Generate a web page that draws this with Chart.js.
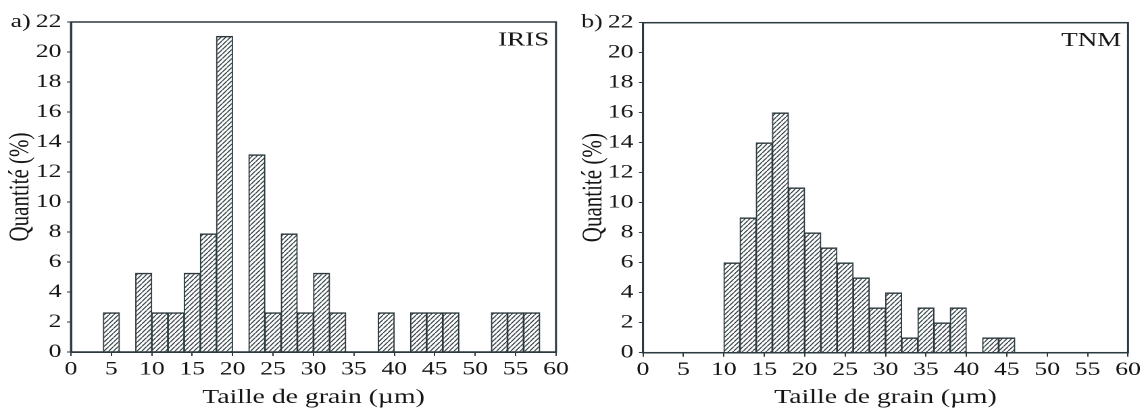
<!DOCTYPE html>
<html><head><meta charset="utf-8">
<script src="https://cdn.jsdelivr.net/npm/chart.js@4.4.1/dist/chart.umd.min.js"></script>
<style>
html,body{margin:0;padding:0;background:#fff;width:1146px;height:414px;overflow:hidden;}
.panel{position:absolute;top:0;width:424px;height:414px;transform-origin:0 0;transform:scaleX(1.351415);}
#pa{left:0}
#pb{left:573px}
</style></head><body>
<div class="panel" id="pa"><canvas id="ca" width="424" height="414"></canvas></div>
<div class="panel" id="pb"><canvas id="cb" width="424" height="414"></canvas></div>
<script>
// ---- data ----
const binWidth = 2; // µm
const xTickValues = [0,5,10,15,20,25,30,35,40,45,50,55,60];
const yTickValues = [0,2,4,6,8,10,12,14,16,18,20,22];
const irisBinStarts = [4,8,10,12,14,16,18,22,24,26,28,30,32,38,42,44,46,52,54,56];
const irisValues    = [2.63,5.26,2.63,2.63,5.26,7.89,21.05,13.16,2.63,7.89,2.63,5.26,2.63,2.63,2.63,2.63,2.63,2.63,2.63,2.63];
const tnmBinStarts  = [10,12,14,16,18,20,22,24,26,28,30,32,34,36,38,42,44];
const tnmValues     = [6,9,14,16,11,8,7,6,5,3,4,1,3,2,3,1,1];
const panelTags  = ['a)','b)'];
const sampleNames = ['IRIS','TNM'];
const xTitle = 'Taille de grain (µm)';
const yTitle = 'Quantité (%)';

// ---- style ----
const FONT = '"Liberation Serif", "Times New Roman", serif';
const INK = '#2c3a3f';
const TXT = '#151515';

function hatchPattern(){
  const k = 2, w = 3.5, h = 4.5;
  const c = document.createElement('canvas');
  c.width = w*k; c.height = h*k;
  const g = c.getContext('2d');
  g.fillStyle = '#ffffff'; g.fillRect(0,0,c.width,c.height);
  g.strokeStyle = '#333d41'; g.lineWidth = 0.95*k;
  g.beginPath();
  for (let n=-1;n<=1;n++){
    g.moveTo(0, c.height + n*c.height);
    g.lineTo(c.width, n*c.height);
  }
  g.stroke();
  const ctx = document.createElement('canvas').getContext('2d');
  const p = ctx.createPattern(c,'repeat');
  p.setTransform(new DOMMatrix([1/k,0,0,1/k,0,0]));
  return p;
}

const framePlugin = {
  id: 'frame',
  afterDatasetsDraw(chart, args, opts){
    const {ctx, chartArea:a} = chart;
    ctx.save();
    ctx.strokeStyle = INK; ctx.lineWidth = 1.5;
    ctx.strokeRect(a.left, a.top, a.right-a.left, a.bottom-a.top);
    ctx.fillStyle = TXT;
    ctx.font = '20px ' + FONT;
    ctx.textAlign = 'right'; ctx.textBaseline = 'middle';
    ctx.fillText(opts.label, a.right - 5, a.top + 18);
    ctx.restore();
  }
};

function makeChart(id, binStarts, values, tag, name, geom){
  const pattern = hatchPattern();
  return new Chart(document.getElementById(id), {
    type: 'bar',
    data: { datasets: [{
      data: binStarts.map((b,i)=>({x: b + binWidth/2, y: values[i]})),
      backgroundColor: pattern,
      borderColor: INK,
      borderWidth: {top:1.5, left:1, right:1, bottom:0},
      borderSkipped: false,
      barPercentage: 1, categoryPercentage: 1
    }]},
    options: {
      responsive: false, animation: false, devicePixelRatio: 2,
      layout: { padding: { left: 0, right: geom.right, top: geom.top, bottom: 0 } },
      plugins: { legend: {display:false}, tooltip: {enabled:false}, frame: {label: name} },
      scales: {
        x: {
          type: 'linear', min: 0, max: 60, offset: false,
          grid: { offset:false, drawOnChartArea:false, drawTicks:true, tickLength:4, tickColor:INK, tickWidth:1 },
          border: { color: INK, width: 1.5 },
          afterBuildTicks: s => { s.ticks = xTickValues.map(v=>({value:v})); },
          ticks: { autoSkip:false, maxRotation:0, padding:2, color:TXT, font:{family:FONT, size:19} },
          title: { display:true, text:xTitle, color:TXT, font:{family:FONT, size:20.5}, padding:{top:0,bottom:4} },
          afterFit: s => { s.height = geom.xh; }
        },
        y: {
          min: 0, max: 22,
          grid: { drawOnChartArea:false, drawTicks:true, tickLength:3, tickColor:INK, tickWidth:1 },
          border: { color: INK, width: 1.5 },
          afterBuildTicks: s => { s.ticks = yTickValues.map(v=>({value:v})); },
          ticks: { padding:4, color:TXT, font:{family:FONT, size:19},
                   callback: v => v === yTickValues[yTickValues.length-1] ? tag + '\u2009' + v : String(v) },
          title: { display:true, text:yTitle, color:TXT, font:{family:FONT, size:21}, padding:{top:3,bottom:0} },
          afterFit: s => { s.width = geom.yw; }
        }
      }
    },
    plugins: [framePlugin]
  });
}

makeChart('ca', irisBinStarts, irisValues, panelTags[0], sampleNames[0], {yw:52.5, right:12.6, top:22, xh:62});
makeChart('cb', tnmBinStarts, tnmValues, panelTags[1], sampleNames[1], {yw:51.8, right:13.3, top:22.7, xh:61.3});
</script>
</body></html>
